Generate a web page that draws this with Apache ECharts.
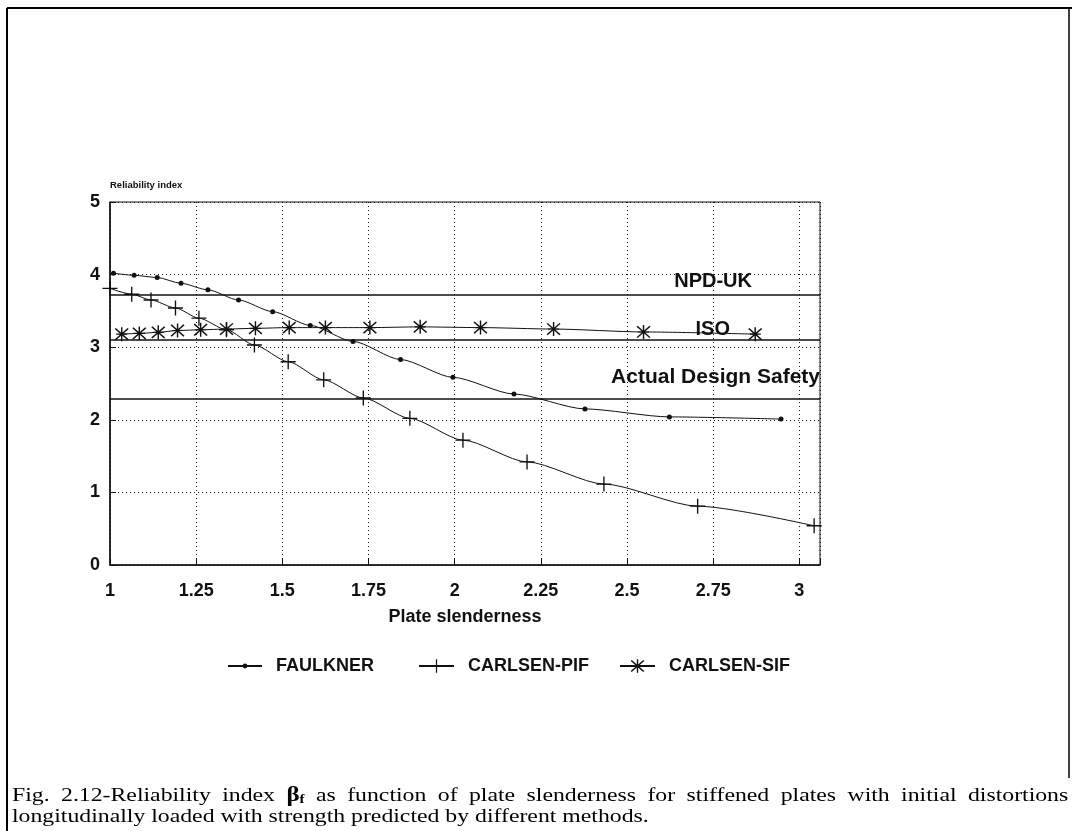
<!DOCTYPE html>
<html>
<head>
<meta charset="utf-8">
<script src="https://cdn.jsdelivr.net/npm/echarts@6/dist/echarts.min.js"></script>
<style>
  html, body { margin: 0; padding: 0; background: #fff; }
  #chart { position: absolute; left: 0; top: 0; width: 1072px; height: 831px; }
  .cap { position: absolute; left: 12px; font-family: 'Liberation Serif', 'Times New Roman', serif;
         font-size: 19px; color: #000; white-space: nowrap; transform-origin: 0 0; transform: scaleX(1.25); }
  #cap1 { width: 845px; text-align: justify; text-align-last: justify; }
  .cap b { font-family: 'Liberation Serif', serif; font-size: 20px; }
  .cap sub { font-size: 12px; vertical-align: -2px; font-weight: bold; }
</style>
</head>
<body>
<div id="chart"></div>
<div class="cap" id="cap1" style="top:783px">Fig. 2.12-Reliability index <b>&beta;<sub>f</sub></b> as function of plate slenderness for stiffened plates with initial distortions</div>
<div class="cap" id="cap2" style="top:805px">longitudinally loaded with strength predicted by different methods.</div>
<script>
// Plate slenderness (x) and reliability index (y) per method
const faulknerX = [1.01, 1.07, 1.137, 1.206, 1.284, 1.373, 1.472, 1.581, 1.705, 1.843, 1.995, 2.172, 2.378, 2.623, 2.947];
const faulknerY = [4.02, 3.99, 3.96, 3.88, 3.79, 3.65, 3.49, 3.30, 3.08, 2.83, 2.585, 2.355, 2.15, 2.04, 2.01];

const pifX = [1.0, 1.063, 1.119, 1.19, 1.258, 1.338, 1.419, 1.517, 1.62, 1.735, 1.87, 2.024, 2.21, 2.433, 2.705, 3.043];
const pifY = [3.81, 3.73, 3.65, 3.54, 3.40, 3.24, 3.03, 2.80, 2.55, 2.30, 2.02, 1.72, 1.42, 1.115, 0.81, 0.54];

const sifX = [1.034, 1.085, 1.14, 1.196, 1.263, 1.338, 1.422, 1.52, 1.625, 1.754, 1.90, 2.075, 2.287, 2.548, 2.872];
const sifY = [3.18, 3.19, 3.205, 3.23, 3.24, 3.25, 3.26, 3.27, 3.27, 3.27, 3.28, 3.27, 3.25, 3.21, 3.18];

// Target safety levels
const refNames = ['NPD-UK', 'ISO', 'Actual Design Safety'];
const refValues = [3.72, 3.095, 2.29];

const seriesNames = ['FAULKNER', 'CARLSEN-PIF', 'CARLSEN-SIF'];

const pair = (xs, ys) => xs.map((x, i) => [x, ys[i]]);

// Thin outline glyphs for the markers
const plusPath = 'path://M4.55,0H5.45V10H4.55Z M0,4.55H10V5.45H0Z';
const starPath = 'path://M4.55,0H5.45V10H4.55Z M0.6,1.3L1.3,0.6L9.4,8.7L8.7,9.4Z M8.7,0.6L9.4,1.3L1.3,9.4L0.6,8.7Z M1.5,4.6H8.5V5.4H1.5Z';

const FONT = "'Liberation Sans', Arial, Helvetica, sans-serif";
const ink = '#111';

// label placement for each safety level: [top, right, bottom, left] padding and size
const refLabelLayout = [
  { pad: [0, 65, 0, 0], dist: 3, size: 20 },
  { pad: [0, 90, 0, 0], dist: 0, size: 20 },
  { pad: [0, 0, 11, 0], dist: 0, size: 21 }
];

const legendText = { fontFamily: FONT, fontWeight: 'bold', fontSize: 18, color: ink, padding: [0, 0, 0, 9] };

const chart = echarts.init(document.getElementById('chart'), null, { renderer: 'canvas' });

chart.setOption({
  animation: false,
  backgroundColor: '#fff',
  textStyle: { fontFamily: FONT },
  grid: {
    left: 110, top: 202, right: 252, bottom: 266,
    show: true, borderColor: ink, borderWidth: 1, backgroundColor: 'transparent'
  },
  legend: [
    {
      left: 222, top: 652, itemWidth: 34, itemHeight: 6,
      textStyle: legendText, data: [seriesNames[0]]
    },
    {
      left: 413, top: 652, itemWidth: 35, itemHeight: 17, itemGap: 30,
      textStyle: legendText, data: [seriesNames[1], seriesNames[2]]
    }
  ],
  xAxis: {
    type: 'value', min: 1, max: 3.06, interval: 0.25,
    name: 'Plate slenderness', nameLocation: 'middle', nameGap: 43,
    nameTextStyle: { fontFamily: FONT, fontWeight: 'bold', fontSize: 18, color: ink },
    axisLine: { show: true, onZero: false, lineStyle: { color: ink, width: 1.5 } },
    axisTick: { show: true, inside: true, length: 6, lineStyle: { color: ink } },
    axisLabel: {
      margin: 17, fontFamily: FONT, fontWeight: 'bold', fontSize: 18, color: ink,
      formatter: v => (Math.abs(v * 4 - Math.round(v * 4)) < 1e-6 ? String(+v.toFixed(2)) : '')
    },
    splitLine: { show: true, lineStyle: { color: ink, width: 1, type: [1, 3] } }
  },
  yAxis: {
    type: 'value', min: 0, max: 5, interval: 1,
    name: 'Reliability index', nameLocation: 'end', nameGap: 12,
    nameTextStyle: { fontFamily: FONT, fontWeight: 'bold', fontSize: 9.5, color: ink, align: 'left' },
    axisLine: { show: true, onZero: false, lineStyle: { color: ink, width: 1.5 } },
    axisTick: { show: true, inside: true, length: 6, lineStyle: { color: ink } },
    axisLabel: { margin: 10, fontFamily: FONT, fontWeight: 'bold', fontSize: 18, color: ink },
    splitLine: { show: true, lineStyle: { color: ink, width: 1, type: [1, 3] } }
  },
  series: [
    {
      name: seriesNames[0], type: 'line', data: pair(faulknerX, faulknerY),
      smooth: 0.25, smoothMonotone: 'x',
      symbol: 'circle', symbolSize: 5,
      lineStyle: { color: ink, width: 1 }, itemStyle: { color: ink },
      markLine: {
        silent: true, symbol: ['none', 'none'], animation: false,
        lineStyle: { color: ink, width: 1.5, type: 'solid' },
        data: refValues.map((v, i) => ({
          yAxis: v, name: refNames[i],
          label: {
            show: true, position: 'insideEndTop', formatter: refNames[i],
            fontFamily: FONT, fontWeight: 'bold', fontSize: refLabelLayout[i].size, color: ink,
            distance: refLabelLayout[i].dist,
            padding: refLabelLayout[i].pad
          }
        }))
      }
    },
    {
      name: seriesNames[1], type: 'line', data: pair(pifX, pifY),
      smooth: 0.25, smoothMonotone: 'x',
      symbol: plusPath, symbolSize: 15,
      lineStyle: { color: ink, width: 1 }, itemStyle: { color: ink }
    },
    {
      name: seriesNames[2], type: 'line', data: pair(sifX, sifY),
      smooth: 0.25, smoothMonotone: 'x',
      symbol: starPath, symbolSize: 14,
      lineStyle: { color: ink, width: 1 }, itemStyle: { color: ink }
    }
  ],
  graphic: [
    // page frame around figure and caption
    { type: 'line', silent: true, shape: { x1: 7, y1: 8, x2: 1072, y2: 8 }, style: { stroke: '#000', lineWidth: 2 } },
    { type: 'line', silent: true, shape: { x1: 7, y1: 8, x2: 7, y2: 831 }, style: { stroke: '#000', lineWidth: 2 } },
    { type: 'line', silent: true, shape: { x1: 1069, y1: 8, x2: 1069, y2: 778 }, style: { stroke: '#000', lineWidth: 1.5 } }
  ]
});
</script>
</body>
</html>
